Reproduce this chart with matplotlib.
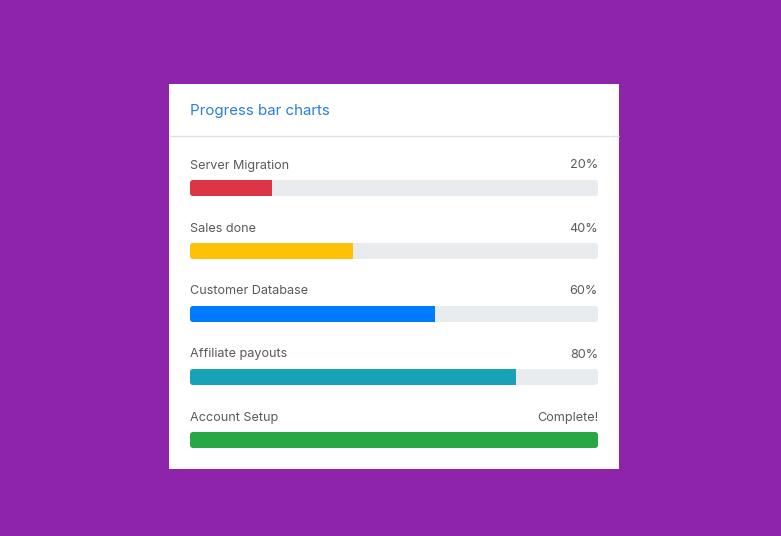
import matplotlib.pyplot as plt
from matplotlib.patches import FancyBboxPatch, Rectangle

labels = ["Server Migration", "Sales done", "Customer Database", "Affiliate payouts", "Account Setup"]
values = [20, 40, 60, 80, 100]
value_texts = ["20%", "40%", "60%", "80%", "Complete!"]
colors = ["#dc3545", "#ffc107", "#007bff", "#17a2b8", "#28a745"]

W, H = 781, 536
plt.rcParams['font.family'] = ['Inter', 'DejaVu Sans']

fig = plt.figure(figsize=(W / 100, H / 100), dpi=100)
fig.patch.set_facecolor("#8e24aa")

# card background in pixel coords
bg = fig.add_axes([0, 0, 1, 1])
bg.set_xlim(0, W)
bg.set_ylim(H, 0)
bg.axis("off")
bg.add_patch(Rectangle((169, 84), 450, 385, facecolor="white", edgecolor="none"))
bg.plot([169, 619], [135.5, 135.5], color="#dee2e6", lw=1, solid_capstyle="butt")
bg.text(190, 111, "Progress bar charts", color="#2a7de1", fontsize=10.9,
        va="center", ha="left")

# bars axes: x is percent, y is row index
left, right = 190, 598
row0, step = 188, 63
ax = fig.add_axes([left / W, 1 - (row0 + step * 4.5) / H,
                   (right - left) / W, step * 5 / H])
ax.set_xlim(0, 100)
ax.set_ylim(4.5, -0.5)
ax.axis("off")

bar_h = 16 / step
asp = ((right - left) / 100) / step
for i, (lab, v, vt, c) in enumerate(zip(labels, values, value_texts, colors)):
    track = FancyBboxPatch((0, i - bar_h / 2), 100, bar_h,
                           boxstyle="round,pad=0,rounding_size=0.8",
                           mutation_aspect=asp, facecolor="#e9ecef",
                           edgecolor="none")
    ax.add_patch(track)
    bars = ax.barh([i], [v], height=bar_h, color=c, edgecolor="none")
    for b in bars:
        b.set_clip_path(track)
    ax.text(0, i - 22.5 / step, lab, color="#5a5a5a", fontsize=9.1,
            va="center", ha="left")
    ax.text(100, i - 22.5 / step, vt, color="#5a5a5a", fontsize=9.1,
            va="center", ha="right")

fig.savefig("out.png", dpi=100, facecolor=fig.get_facecolor())
